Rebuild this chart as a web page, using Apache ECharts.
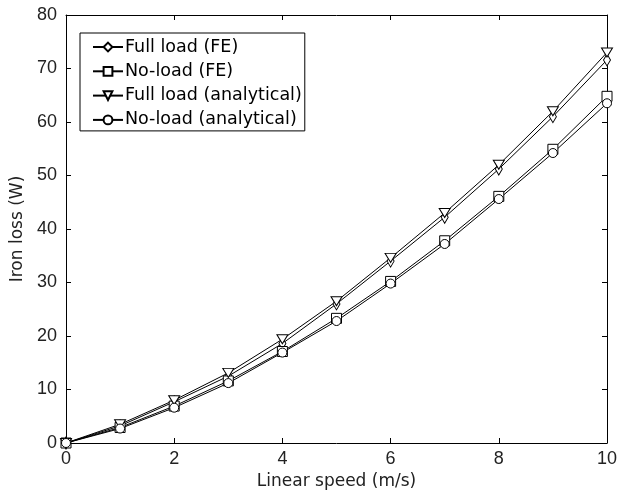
<!DOCTYPE html>
<html>
<head>
<meta charset="utf-8">
<script src="https://cdn.jsdelivr.net/npm/echarts@6/dist/echarts.min.js"></script>
<style>html,body{margin:0;padding:0;background:#fff}#c{width:625px;height:497px}</style>
</head>
<body>
<div id="c"></div>
<script>
var speeds = [0,1,2,3,4,5,6,7,8,9,10];
var fullLoadFE = [0,3.2,7.7,12.5,18.6,26.0,34.0,42.2,51.2,61.0,71.6];
var noLoadFE = [0,2.9,6.9,11.6,17.1,23.3,30.2,37.8,46.1,54.9,64.8];
var fullLoadAn = [0,3.5,8.0,13.1,19.4,26.5,34.6,43.0,52.0,62.0,73.0];
var noLoadAn = [0,2.7,6.6,11.2,16.9,22.8,29.8,37.2,45.6,54.2,63.5];
var names = ['Full load (FE)','No-load (FE)','Full load (analytical)','No-load (analytical)'];

var numFont = 'Liberation Sans, Arial, sans-serif';
var txtFont = 'DejaVu Sans, sans-serif';
var tc = '#222';
function pairs(v){return speeds.map(function(x,i){return [x,v[i]];});}
function ser(name, data, symbol, size, rot){
  return {name:name,type:'line',data:pairs(data),symbol:symbol,symbolSize:size,symbolRotate:rot||0,
    showAllSymbol:true,lineStyle:{color:'#000',width:1},
    itemStyle:{color:'#fff',borderColor:'#000',borderWidth:1},
    emphasis:{disabled:true},animation:false,z:2};
}
function line(){return {show:true,onZero:false,lineStyle:{color:'#000',width:1}};}
function tick(){return {show:true,inside:true,length:5,lineStyle:{color:'#000',width:1}};}
var chart = echarts.init(document.getElementById('c'));
chart.setOption({
  backgroundColor:'#fff',
  animation:false,
  grid:{left:66,right:18,top:15,bottom:54,containLabel:false},
  legend:{orient:'vertical',left:80,top:33,data:names,
    backgroundColor:'#fff',borderColor:'#000',borderWidth:1,padding:[5,3,2,12],
    itemWidth:30,itemHeight:11,itemGap:6.3,
    textStyle:{fontFamily:txtFont,fontSize:17.5,lineHeight:17,color:'#000',padding:[0,0,0,-3]}},
  xAxis:[
    {type:'value',min:0,max:10,interval:2,position:'bottom',
      name:'Linear speed (m/s)',nameLocation:'middle',nameGap:30,
      nameTextStyle:{fontFamily:txtFont,fontSize:17,color:tc},
      axisLine:line(),axisTick:tick(),splitLine:{show:false},
      axisLabel:{fontFamily:numFont,fontSize:18,color:tc,margin:7}},
    {type:'value',min:0,max:10,interval:2,position:'top',
      axisLine:line(),axisTick:tick(),splitLine:{show:false},axisLabel:{show:false}}
  ],
  yAxis:[
    {type:'value',min:0,max:80,interval:10,position:'left',
      name:'Iron loss (W)',nameLocation:'middle',nameGap:31,
      nameTextStyle:{fontFamily:txtFont,fontSize:17,color:tc},
      axisLine:line(),axisTick:tick(),splitLine:{show:false},
      axisLabel:{fontFamily:numFont,fontSize:18,color:tc,margin:9}},
    {type:'value',min:0,max:80,interval:10,position:'right',
      axisLine:line(),axisTick:tick(),splitLine:{show:false},axisLabel:{show:false}}
  ],
  series:[
    ser(names[0],fullLoadFE,'diamond',[7,12]),
    ser(names[1],noLoadFE,'rect',10),
    ser(names[2],fullLoadAn,'triangle',[11,9],180),
    ser(names[3],noLoadAn,'circle',[9,9])
  ]
});
</script>
</body>
</html>
